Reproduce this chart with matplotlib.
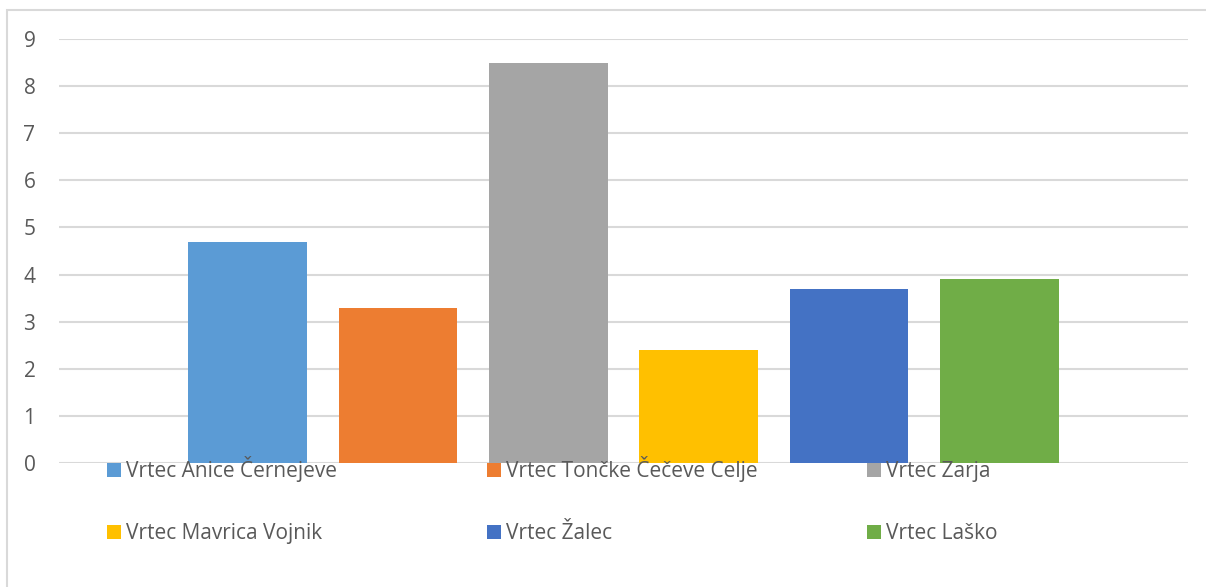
import matplotlib
matplotlib.use('Agg')
import matplotlib.pyplot as plt
from matplotlib.patches import Rectangle

plt.rcParams['font.family'] = ['Open Sans', 'DejaVu Sans']

# data
series_names = ['Vrtec Anice Černejeve', 'Vrtec Tončke Čečeve Celje', 'Vrtec Zarja',
                'Vrtec Mavrica Vojnik', 'Vrtec Žalec', 'Vrtec Laško']
values = [4.7, 3.3, 8.5, 2.4, 3.7, 3.9]
colors = ['#5B9BD5', '#ED7D31', '#A5A5A5', '#FFC000', '#4472C4', '#70AD47']
y_ticks = [0, 1, 2, 3, 4, 5, 6, 7, 8, 9]

W, H = 1206, 587
FS = 15
fig = plt.figure(figsize=(W / 100, H / 100), dpi=100)
ax = fig.add_axes([59 / W, 1 - 463 / H, (1188 - 59) / W, (463 - 39) / H])

# chart border (clipped on the right/bottom like the reference)
fig.patches.append(Rectangle((7 / W, -0.1), 1.2, 1 - 10 / H + 0.1, transform=fig.transFigure,
                             fill=False, edgecolor='#D9D9D9', linewidth=1.5))

bars = []
for i, (name, v, c) in enumerate(zip(series_names, values, colors)):
    b = ax.bar(i, v, width=0.79, color=c, label=name, zorder=3)
    bars.append(b)

ax.set_xlim(-1.255, len(values) - 1 + 1.255)
ax.set_ylim(0, 9)
ax.set_yticks(y_ticks)
ax.set_xticks([])
ax.yaxis.grid(True, color='#D9D9D9', linewidth=1.5, zorder=0)
for s in ax.spines.values():
    s.set_visible(False)
ax.tick_params(axis='y', length=0, pad=17, labelsize=FS, labelcolor='#595959')

# legend: 3 columns x 2 rows, one small legend per entry so rows line up
col_x = [107, 487, 867]
row_bottom = [482, 544]
for i, b in enumerate(bars):
    cx = col_x[i % 3]
    ry = row_bottom[i // 3]
    fig.legend([b], [series_names[i]], loc='lower left', bbox_to_anchor=(cx / W, 1 - ry / H),
               frameon=False, fontsize=FS, labelcolor='#595959', borderpad=0, borderaxespad=0,
               handlelength=0.68, handleheight=0.68, handletextpad=0.25)

fig.savefig('out.png', dpi=100)
